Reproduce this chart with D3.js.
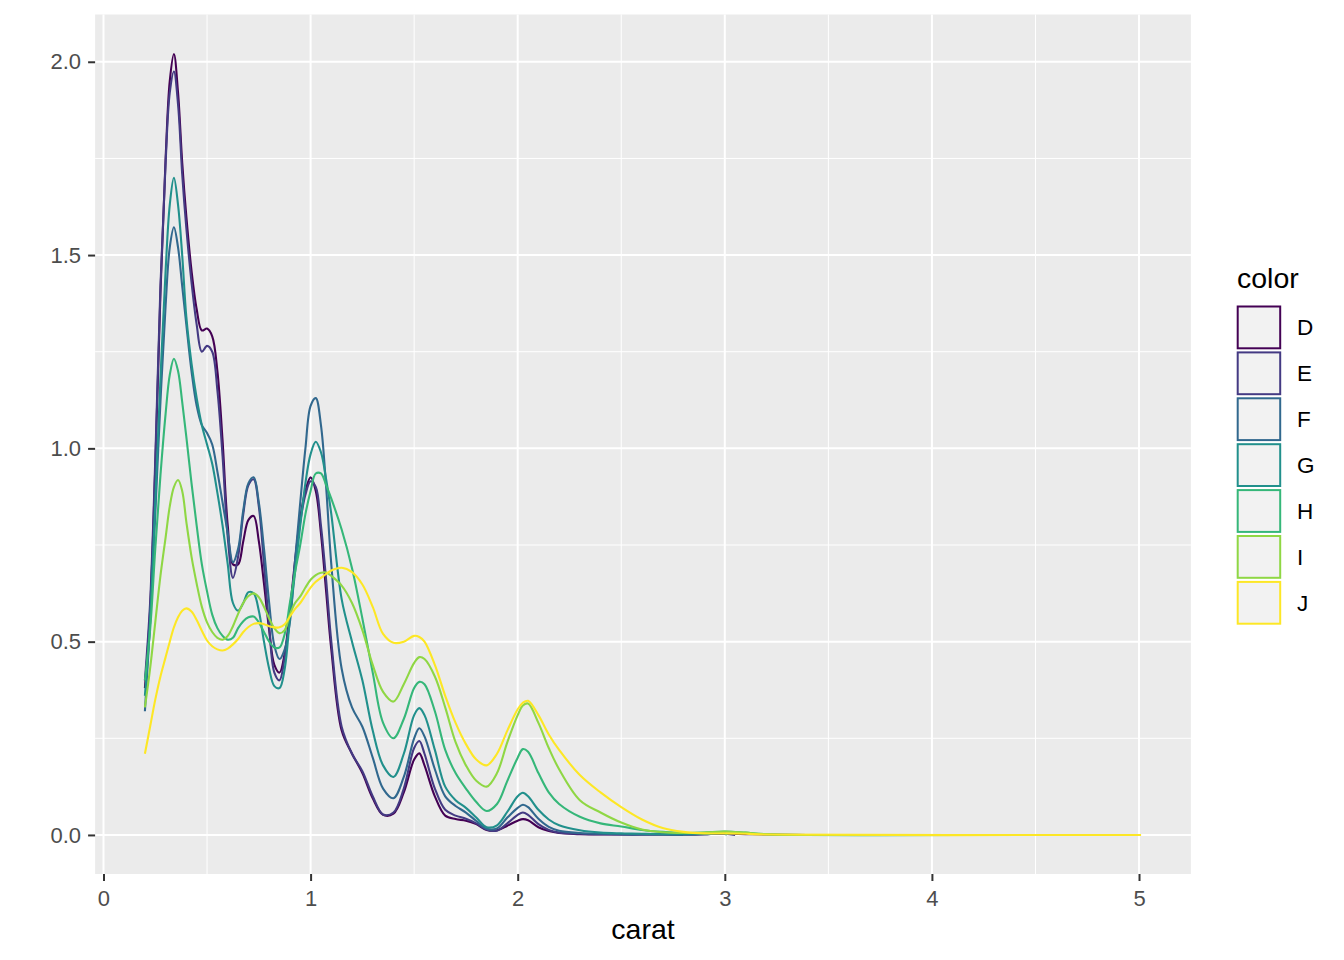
<!DOCTYPE html>
<html><head><meta charset="utf-8">
<script src="https://cdn.jsdelivr.net/npm/d3@7"></script>
<style>
body{margin:0;background:#fff}
svg{display:block}
text{font-family:"Liberation Sans", Arial, Helvetica, sans-serif}
</style>
</head><body>
<svg id="chart" width="1344" height="960"></svg>
<script>
// ---------- data ----------
const carat = [0.20,0.225,0.25,0.275,0.30,0.32,0.34,0.36,0.38,0.40,
  0.425,0.45,0.475,0.50,0.525,0.55,0.575,0.60,0.625,0.65,
  0.675,0.70,0.725,0.75,0.775,0.80,0.825,0.85,0.875,0.90,
  0.925,0.95,0.975,1.00,1.025,1.05,1.075,1.10,1.15,1.20,
  1.25,1.30,1.35,1.40,1.45,1.50,1.525,1.55,1.60,1.65,
  1.70,1.75,1.80,1.85,1.90,1.95,2.00,2.025,2.05,2.10,
  2.15,2.20,2.30,2.40,2.50,2.60,2.70,2.80,2.90,3.00,
  3.10,3.20];

const densD = [0.38,0.58,0.95,1.40,1.75,1.95,2.02,1.92,1.74,1.60,
  1.46,1.36,1.305,1.31,1.29,1.20,1.02,0.80,0.70,0.70,
  0.76,0.815,0.825,0.76,0.65,0.53,0.44,0.42,0.47,0.58,
  0.71,0.82,0.89,0.925,0.89,0.78,0.63,0.48,0.27,0.21,
  0.16,0.095,0.052,0.055,0.11,0.195,0.211,0.18,0.10,0.05,
  0.041,0.037,0.028,0.013,0.012,0.024,0.037,0.041,0.038,0.02,
  0.01,0.005,0.002,0.001,0.001,0.001,0.001,0.001,0.002,0.003,
  0.002,0.001];

const densE = [0.40,0.60,0.97,1.42,1.74,1.92,1.975,1.89,1.71,1.57,
  1.43,1.32,1.25,1.265,1.25,1.15,0.98,0.77,0.665,0.72,
  0.83,0.905,0.92,0.85,0.70,0.54,0.42,0.40,0.46,0.57,
  0.70,0.81,0.88,0.915,0.90,0.80,0.66,0.50,0.28,0.21,
  0.165,0.10,0.053,0.058,0.12,0.225,0.243,0.21,0.12,0.065,
  0.05,0.042,0.03,0.014,0.011,0.03,0.052,0.058,0.052,0.028,
  0.013,0.006,0.003,0.002,0.001,0.001,0.001,0.001,0.002,0.003,
  0.002,0.001];

const densF = [0.32,0.55,0.83,1.12,1.37,1.52,1.572,1.52,1.42,1.32,
  1.20,1.11,1.06,1.04,1.01,0.94,0.86,0.78,0.705,0.74,
  0.84,0.91,0.925,0.86,0.74,0.60,0.49,0.455,0.48,0.55,
  0.71,0.86,1.00,1.11,1.13,1.06,0.90,0.70,0.43,0.33,
  0.28,0.20,0.12,0.095,0.15,0.25,0.276,0.255,0.17,0.10,
  0.075,0.058,0.036,0.016,0.017,0.045,0.07,0.078,0.072,0.042,
  0.021,0.011,0.005,0.003,0.002,0.001,0.001,0.001,0.002,0.004,
  0.002,0.001];

const densG = [0.36,0.55,0.86,1.18,1.46,1.63,1.70,1.63,1.50,1.34,
  1.22,1.13,1.06,1.01,0.96,0.885,0.80,0.70,0.60,0.58,
  0.60,0.628,0.625,0.58,0.50,0.43,0.385,0.38,0.43,0.56,
  0.68,0.80,0.91,0.985,1.017,0.99,0.92,0.83,0.61,0.50,
  0.40,0.27,0.18,0.15,0.21,0.31,0.328,0.31,0.22,0.125,
  0.09,0.07,0.045,0.02,0.025,0.06,0.10,0.109,0.10,0.065,
  0.04,0.025,0.012,0.006,0.004,0.003,0.002,0.002,0.003,0.005,
  0.003,0.001];

const densH = [0.40,0.53,0.74,0.93,1.09,1.19,1.232,1.20,1.12,1.03,
  0.91,0.80,0.70,0.63,0.57,0.535,0.515,0.505,0.51,0.535,
  0.553,0.563,0.565,0.55,0.525,0.50,0.485,0.485,0.52,0.60,
  0.68,0.75,0.83,0.89,0.935,0.935,0.905,0.87,0.79,0.69,
  0.56,0.42,0.29,0.25,0.30,0.38,0.396,0.39,0.32,0.22,
  0.16,0.12,0.085,0.062,0.08,0.14,0.20,0.222,0.215,0.16,
  0.11,0.08,0.047,0.03,0.022,0.013,0.008,0.005,0.006,0.009,
  0.006,0.002];

const densI = [0.33,0.43,0.55,0.67,0.77,0.85,0.90,0.918,0.89,0.81,
  0.72,0.65,0.59,0.55,0.525,0.51,0.505,0.515,0.54,0.572,
  0.60,0.618,0.625,0.615,0.59,0.56,0.535,0.522,0.53,0.57,
  0.60,0.617,0.64,0.66,0.672,0.678,0.679,0.67,0.645,0.60,
  0.53,0.44,0.37,0.345,0.39,0.445,0.46,0.455,0.41,0.33,
  0.24,0.18,0.14,0.125,0.16,0.24,0.31,0.335,0.34,0.29,
  0.225,0.17,0.09,0.058,0.032,0.014,0.007,0.005,0.006,0.009,
  0.006,0.002];

const densJ = [0.21,0.28,0.35,0.41,0.46,0.50,0.537,0.563,0.58,0.586,
  0.578,0.556,0.528,0.503,0.488,0.48,0.477,0.482,0.493,0.507,
  0.525,0.538,0.546,0.548,0.545,0.54,0.537,0.537,0.545,0.565,
  0.585,0.60,0.62,0.64,0.655,0.665,0.675,0.684,0.691,0.68,
  0.648,0.59,0.52,0.497,0.50,0.515,0.512,0.50,0.44,0.36,
  0.29,0.235,0.195,0.18,0.21,0.27,0.325,0.342,0.347,0.31,
  0.26,0.22,0.155,0.11,0.072,0.04,0.018,0.008,0.004,0.004,
  0.003,0.001];

const colorLevels = ["D","E","F","G","H","I","J"];
const colorHex = ["#440154","#443A83","#31688E","#21908C","#35B779","#8FD744","#FDE725"];
const maxCarat = [3.40,3.05,3.01,3.01,4.13,4.01,5.01];
const xTicks = [0,1,2,3,4,5];
const xMinor = [0.5,1.5,2.5,3.5,4.5];
const yTicks = [0,0.5,1,1.5,2];
const yTickLabels = ["0.0","0.5","1.0","1.5","2.0"];
const yMinor = [0.25,0.75,1.25,1.75];
const xTitle = "carat";
const legendTitle = "color";

// ---------- build ----------
const densities = [densD,densE,densF,densG,densH,densI,densJ];
const series = colorLevels.map((lvl,i)=>{
  const pts = [];
  carat.forEach((c,k)=>{ if (c <= maxCarat[i]) pts.push([c, densities[i][k]]); });
  pts.push([maxCarat[i], 0]);
  return {level:lvl, color:colorHex[i], points:pts};
});

const svg = d3.select("#chart");
const P = {left:95.1, right:1190.9, top:15, bottom:874};

const x = d3.scaleLinear().domain([-0.0405, 5.2505]).range([P.left, P.right]);
const y = d3.scaleLinear().domain([-0.101, 2.121]).range([P.bottom, P.top]);

svg.append("rect").attr("x",0).attr("y",0).attr("width",1344).attr("height",960).attr("fill","#FFFFFF");
svg.append("rect").attr("x",P.left).attr("y",P.top-0.5).attr("width",P.right-P.left).attr("height",P.bottom-P.top+0.5).attr("fill","#EBEBEB");

const grid = svg.append("g");
grid.selectAll(".xminor").data(xMinor).join("line")
  .attr("x1",d=>x(d)).attr("x2",d=>x(d)).attr("y1",P.top-0.5).attr("y2",P.bottom)
  .attr("stroke","#FFFFFF").attr("stroke-width",1.0);
grid.selectAll(".yminor").data(yMinor).join("line")
  .attr("y1",d=>y(d)).attr("y2",d=>y(d)).attr("x1",P.left).attr("x2",P.right)
  .attr("stroke","#FFFFFF").attr("stroke-width",1.0);
grid.selectAll(".xmajor").data(xTicks).join("line")
  .attr("x1",d=>x(d)).attr("x2",d=>x(d)).attr("y1",P.top-0.5).attr("y2",P.bottom)
  .attr("stroke","#FFFFFF").attr("stroke-width",2.0);
grid.selectAll(".ymajor").data(yTicks).join("line")
  .attr("y1",d=>y(d)).attr("y2",d=>y(d)).attr("x1",P.left).attr("x2",P.right)
  .attr("stroke","#FFFFFF").attr("stroke-width",2.0);

// curves
const line = d3.line().x(d=>x(d[0])).y(d=>y(d[1])).curve(d3.curveCatmullRom.alpha(0.5));
svg.append("g").selectAll("path").data(series).join("path")
  .attr("d",d=>line(d.points))
  .attr("fill","none").attr("stroke",d=>d.color).attr("stroke-width",2.1)
  .attr("stroke-linejoin","round");

// axes
const xAxis = svg.append("g").attr("transform",`translate(0,${P.bottom})`)
  .call(d3.axisBottom(x).tickValues(xTicks).tickFormat(d3.format("d")).tickSize(7).tickPadding(9));
const yAxis = svg.append("g").attr("transform",`translate(${P.left},0)`)
  .call(d3.axisLeft(y).tickValues(yTicks).tickFormat((d,i)=>yTickLabels[i]).tickSize(7).tickPadding(7));
[xAxis,yAxis].forEach(a=>{
  a.select(".domain").remove();
  a.selectAll(".tick line").attr("stroke","#333333").attr("stroke-width",2);
  a.selectAll(".tick text").attr("fill","#4D4D4D").attr("font-size",22)
    .attr("font-family","'Liberation Sans', Arial, sans-serif");
});

// axis title
svg.append("text").attr("x",(P.left+P.right)/2).attr("y",939).attr("text-anchor","middle")
  .attr("font-size",28.5).attr("fill","#000000").text(xTitle);

// legend
const lg = svg.append("g");
lg.append("text").attr("x",1237).attr("y",288).attr("font-size",28.5).attr("fill","#000000").text(legendTitle);
const keyStep = 45.9, keyTop = 306.5, keyW = 42.5, keyH = 41.8;
const items = lg.selectAll(".key").data(series).join("g").attr("class","key");
items.append("rect").attr("x",1237.7).attr("y",(d,i)=>keyTop+i*keyStep)
  .attr("width",keyW).attr("height",keyH).attr("fill","#F2F2F2")
  .attr("stroke",d=>d.color).attr("stroke-width",2);
items.append("text").attr("x",1297).attr("y",(d,i)=>keyTop+i*keyStep+keyH/2)
  .attr("dy","0.35em").attr("font-size",22.5).attr("fill","#000000").text(d=>d.level);
</script>
</body></html>
